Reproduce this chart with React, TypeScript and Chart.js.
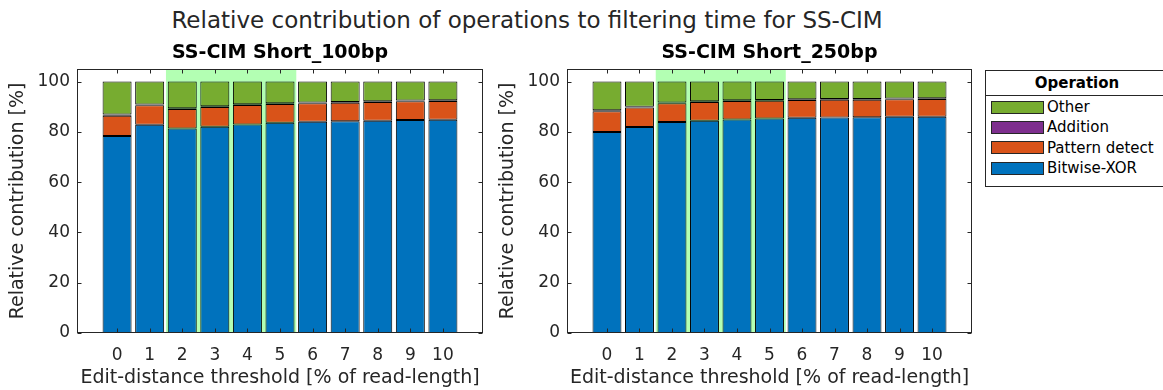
import React, { useEffect, useRef } from "react";
import { Chart, registerables } from "chart.js";

Chart.register(...registerables);

const FONT = "'DejaVu Sans', 'Liberation Sans', sans-serif";
const AXIS_COLOR = "#262626";

// Edit-distance thresholds (% of read length) on the x axis
const thresholds = [0, 1, 2, 3, 4, 5, 6, 7, 8, 9, 10];
const yTicks = [0, 20, 40, 60, 80, 100];
// Range of thresholds shaded in the background band
const bandFrom = 2;
const bandTo = 5;

// Stacking order bottom -> top
const seriesNames = ["Bitwise-XOR", "Pattern detect", "Addition", "Other"];
const seriesColors = ["#0072BD", "#D95319", "#7E2F8E", "#77AC30"];

// SS-CIM Short_100bp: relative contribution [%]
const short100Bitwise = [78.4, 82.8, 81.3, 82.0, 82.9, 83.6, 84.0, 84.2, 84.4, 84.7, 84.8];
const short100Pattern = [8.0, 7.8, 7.8, 7.9, 7.8, 7.5, 7.4, 7.4, 7.5, 7.5, 7.5];
const short100Addition = [0.5, 0.3, 0.3, 0.3, 0.3, 0.3, 0.3, 0.3, 0.3, 0.3, 0.3];
const short100Other = [13.1, 9.1, 10.6, 9.8, 9.0, 8.6, 8.3, 8.1, 7.8, 7.5, 7.4];

// SS-CIM Short_250bp: relative contribution [%]
const short250Bitwise = [79.9, 81.9, 83.9, 84.4, 84.9, 85.3, 85.6, 85.7, 85.8, 86.0, 86.0];
const short250Pattern = [8.3, 7.8, 7.5, 7.5, 7.4, 7.1, 7.1, 7.1, 7.0, 7.0, 7.1];
const short250Addition = [0.4, 0.3, 0.3, 0.3, 0.3, 0.3, 0.3, 0.3, 0.3, 0.3, 0.3];
const short250Other = [11.4, 10.0, 8.3, 7.8, 7.4, 7.3, 7.0, 6.9, 6.9, 6.7, 6.6];

const bandPlugin = {
  id: "thresholdBand",
  beforeDatasetsDraw(chart: any) {
    const { ctx, chartArea, scales } = chart;
    const x0 = scales.x.getPixelForValue(bandFrom - 0.5);
    const x1 = scales.x.getPixelForValue(bandTo + 0.5);
    ctx.save();
    ctx.fillStyle = "rgb(179,255,179)";
    ctx.fillRect(x0, chartArea.top, x1 - x0, chartArea.bottom - chartArea.top);
    ctx.restore();
  },
};

// Boxed axes with inward tick marks on all four sides
const axesBoxPlugin = {
  id: "axesBox",
  afterDatasetsDraw(chart: any) {
    const { ctx, chartArea, scales } = chart;
    const L = Math.round(chartArea.left) + 0.5;
    const R = Math.round(chartArea.right) - 0.5;
    const T = Math.round(chartArea.top) + 0.5;
    const B = Math.round(chartArea.bottom) - 0.5;
    const tick = 4;
    ctx.save();
    ctx.strokeStyle = AXIS_COLOR;
    ctx.lineWidth = 1;
    ctx.beginPath();
    for (const v of thresholds) {
      const x = Math.round(scales.x.getPixelForValue(v)) + 0.5;
      ctx.moveTo(x, B);
      ctx.lineTo(x, B - tick);
      ctx.moveTo(x, T);
      ctx.lineTo(x, T + tick);
    }
    for (const v of yTicks) {
      const y = Math.round(scales.y.getPixelForValue(v)) + 0.5;
      ctx.moveTo(L, y);
      ctx.lineTo(L + tick, y);
      ctx.moveTo(R, y);
      ctx.lineTo(R - tick, y);
    }
    ctx.stroke();
    ctx.strokeRect(L, T, R - L, B - T);
    ctx.restore();
  },
};

function buildConfig(title: string, series: number[][]): any {
  return {
    type: "bar",
    data: {
      datasets: series.map((vals, i) => ({
        label: seriesNames[i],
        data: thresholds.map((t, j) => ({ x: t, y: vals[j] })),
        backgroundColor: seriesColors[i],
        borderColor: "#000000",
        borderWidth: 1,
        borderSkipped: false,
        inflateAmount: 0,
        categoryPercentage: 1,
        barPercentage: 0.89,
      })),
    },
    options: {
      animation: false,
      responsive: false,
      maintainAspectRatio: false,
      events: [],
      layout: { padding: { top: 0, right: 7, left: 0, bottom: 0 } },
      plugins: {
        legend: { display: false },
        tooltip: { enabled: false },
        title: {
          display: true,
          text: title,
          fullSize: false,
          color: "#000000",
          font: { family: FONT, size: 19, weight: "bold", lineHeight: 1.2 },
          padding: { top: 42, bottom: 4.2 },
        },
      },
      scales: {
        x: {
          type: "linear",
          min: -1.23,
          max: 11.23,
          offset: false,
          stacked: true,
          grid: { display: false, drawTicks: false },
          border: { display: false },
          afterBuildTicks: (scale: any) => {
            scale.ticks = thresholds.map((v) => ({ value: v }));
          },
          afterFit: (scale: any) => {
            scale.height = 57;
          },
          ticks: {
            color: AXIS_COLOR,
            padding: 12,
            maxRotation: 0,
            autoSkip: false,
            font: { family: FONT, size: 17 },
            callback: (v: any) => String(v),
          },
          title: {
            display: true,
            text: "Edit-distance threshold [% of read-length]",
            color: AXIS_COLOR,
            font: { family: FONT, size: 19, lineHeight: 1.2 },
            padding: { top: 0, bottom: 1 },
          },
        },
        y: {
          type: "linear",
          min: 0,
          max: 105,
          stacked: true,
          grid: { display: false, drawTicks: false },
          border: { display: false },
          afterBuildTicks: (scale: any) => {
            scale.ticks = yTicks.map((v) => ({ value: v }));
          },
          afterFit: (scale: any) => {
            scale.width = 77;
          },
          ticks: {
            color: AXIS_COLOR,
            padding: 7,
            font: { family: FONT, size: 17 },
            callback: (v: any) => String(v),
          },
          title: {
            display: true,
            text: "Relative contribution [%]",
            color: AXIS_COLOR,
            font: { family: FONT, size: 19, lineHeight: 1.2 },
            padding: { top: 6.6, bottom: 0 },
          },
        },
      },
    },
    plugins: [bandPlugin, axesBoxPlugin],
  };
}

function StackedPanel(props: { title: string; series: number[][]; left: number; width: number }) {
  const ref = useRef<HTMLCanvasElement | null>(null);
  useEffect(() => {
    if (!ref.current) return;
    const chart = new Chart(ref.current, buildConfig(props.title, props.series));
    return () => chart.destroy();
  }, []);
  return (
    <canvas
      ref={ref}
      width={props.width}
      height={390}
      style={{ position: "absolute", left: props.left, top: 0, width: props.width, height: 390 }}
    />
  );
}

function Legend() {
  const order = [3, 2, 1, 0];
  return (
    <div
      style={{
        position: "absolute",
        left: 985,
        top: 70,
        width: 182,
        height: 115,
        border: `1px solid ${AXIS_COLOR}`,
        background: "#ffffff",
        fontFamily: FONT,
        color: "#000000",
      }}
    >
      <div
        style={{
          height: 24,
          lineHeight: "24px",
          textAlign: "center",
          fontWeight: "bold",
          fontSize: 15,
          borderBottom: `1px solid ${AXIS_COLOR}`,
        }}
      >
        Operation
      </div>
      <div style={{ paddingTop: 1 }}>
        {order.map((i) => (
          <div key={seriesNames[i]} style={{ height: 20.3, display: "flex", alignItems: "center", fontSize: 15 }}>
            <span
              style={{
                display: "inline-block",
                marginLeft: 5,
                width: 51,
                height: 11,
                background: seriesColors[i],
                border: `1px solid ${AXIS_COLOR}`,
                marginRight: 3,
              }}
            />
            <span style={{ whiteSpace: "nowrap" }}>{seriesNames[i]}</span>
          </div>
        ))}
      </div>
    </div>
  );
}

export default function App() {
  return (
    <div
      style={{
        position: "fixed",
        left: 0,
        top: 0,
        width: 1163,
        height: 390,
        overflow: "hidden",
        background: "#ffffff",
      }}
    >
      <div
        style={{
          position: "absolute",
          left: 0,
          top: 6,
          width: 1054,
          textAlign: "center",
          fontFamily: FONT,
          fontSize: 23,
          lineHeight: "28px",
          color: AXIS_COLOR,
          whiteSpace: "nowrap",
        }}
      >
        Relative contribution of operations to filtering time for SS-CIM
      </div>
      <StackedPanel
        title="SS-CIM Short_100bp"
        series={[short100Bitwise, short100Pattern, short100Addition, short100Other]}
        left={0}
        width={490}
      />
      <StackedPanel
        title="SS-CIM Short_250bp"
        series={[short250Bitwise, short250Pattern, short250Addition, short250Other]}
        left={490}
        width={489}
      />
      <Legend />
    </div>
  );
}
